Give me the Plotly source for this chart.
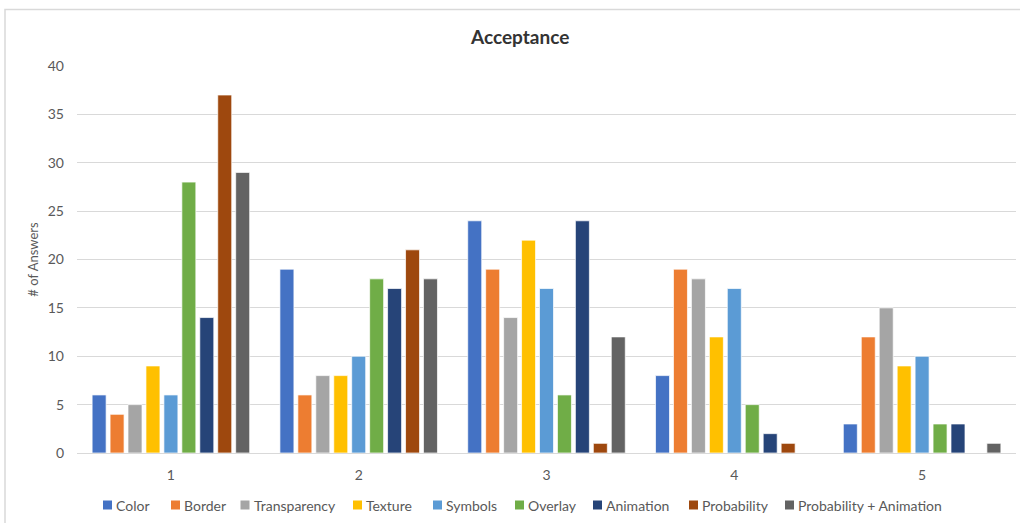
import plotly.graph_objects as go

# Answer counts per acceptance rating (1-5) for each visualization technique
categories = ["1", "2", "3", "4", "5"]
color_vals = [6, 19, 24, 8, 3]
border_vals = [4, 6, 19, 19, 12]
transparency_vals = [5, 8, 14, 18, 15]
texture_vals = [9, 8, 22, 12, 9]
symbols_vals = [6, 10, 17, 17, 10]
overlay_vals = [28, 18, 6, 5, 3]
animation_vals = [14, 17, 24, 2, 3]
probability_vals = [37, 21, 1, 1, None]
prob_anim_vals = [29, 18, 12, None, 1]

series_names = ["Color", "Border", "Transparency", "Texture", "Symbols",
                "Overlay", "Animation", "Probability", "Probability + Animation"]
series_values = [color_vals, border_vals, transparency_vals, texture_vals, symbols_vals,
                 overlay_vals, animation_vals, probability_vals, prob_anim_vals]
series_colors = ["#4472C4", "#ED7D31", "#A5A5A5", "#FFC000", "#5B9BD5",
                 "#70AD47", "#264478", "#9E480E", "#636363"]

FONT = "Lato, Carlito, 'Open Sans', sans-serif"
TEXT_GRAY = "#595959"

# Plot area geometry in pixels (used to place the bottom legend in paper units)
W, H = 1020, 523
L, R, T, B = 77, 4, 66, 70
PW, PH = W - L - R, H - T - B


def px_x(px):
    return (px - L) / PW


def px_y(py):
    return (H - B - py) / PH


fig = go.Figure()
for name, vals, col in zip(series_names, series_values, series_colors):
    fig.add_trace(go.Bar(
        name=name,
        x=categories,
        y=vals,
        marker=dict(color=col, line=dict(color="rgba(255,255,255,0.7)", width=1)),
        showlegend=False,
    ))

# Bottom legend: small square swatch followed by the series name
legend_swatch_left = [103, 171, 240.5, 353, 433, 515, 593, 689, 785]
shapes = []
annotations = []
for name, col, sx in zip(series_names, series_colors, legend_swatch_left):
    shapes.append(dict(
        type="rect", xref="paper", yref="paper",
        x0=px_x(sx), x1=px_x(sx + 9), y0=px_y(509.5), y1=px_y(500.5),
        fillcolor=col, line=dict(width=0),
    ))
    annotations.append(dict(
        text=name, xref="paper", yref="paper",
        x=px_x(sx + 11), y=px_y(505), xanchor="left", yanchor="middle",
        showarrow=False, font=dict(family=FONT, size=14, color=TEXT_GRAY),
    ))

# Light chart-area border
shapes.append(dict(
    type="rect", xref="paper", yref="paper",
    x0=px_x(5), x1=1.1, y0=-0.5, y1=px_y(9.5),
    line=dict(color="#D9D9D9", width=1.5), fillcolor="rgba(0,0,0,0)", layer="below",
))

fig.update_layout(
    width=W,
    height=H,
    margin=dict(l=L, r=R, t=T, b=B),
    paper_bgcolor="white",
    plot_bgcolor="white",
    barmode="group",
    bargap=0.14,
    bargroupgap=0.22,
    font=dict(family=FONT, color=TEXT_GRAY, size=13),
    title=dict(
        text="<b>Acceptance</b>",
        x=0.51, xanchor="center",
        y=1 - 37 / H, yanchor="middle",
        font=dict(family=FONT, size=19, color="#333333"),
    ),
    xaxis=dict(
        showgrid=False,
        showline=True,
        linecolor="#D9D9D9",
        linewidth=1,
        ticks="",
        tickfont=dict(family=FONT, size=14, color=TEXT_GRAY),
        ticklabelstandoff=9,
    ),
    yaxis=dict(
        range=[0, 40],
        dtick=5,
        showgrid=True,
        gridcolor="#D9D9D9",
        gridwidth=1,
        zeroline=False,
        showline=False,
        ticks="",
        tickfont=dict(family=FONT, size=14, color=TEXT_GRAY),
        ticklabelstandoff=12,
        title=dict(text="# of Answers", font=dict(family=FONT, size=13, color=TEXT_GRAY), standoff=6),
    ),
    shapes=shapes,
    annotations=annotations,
)

fig.write_html("out.html")
